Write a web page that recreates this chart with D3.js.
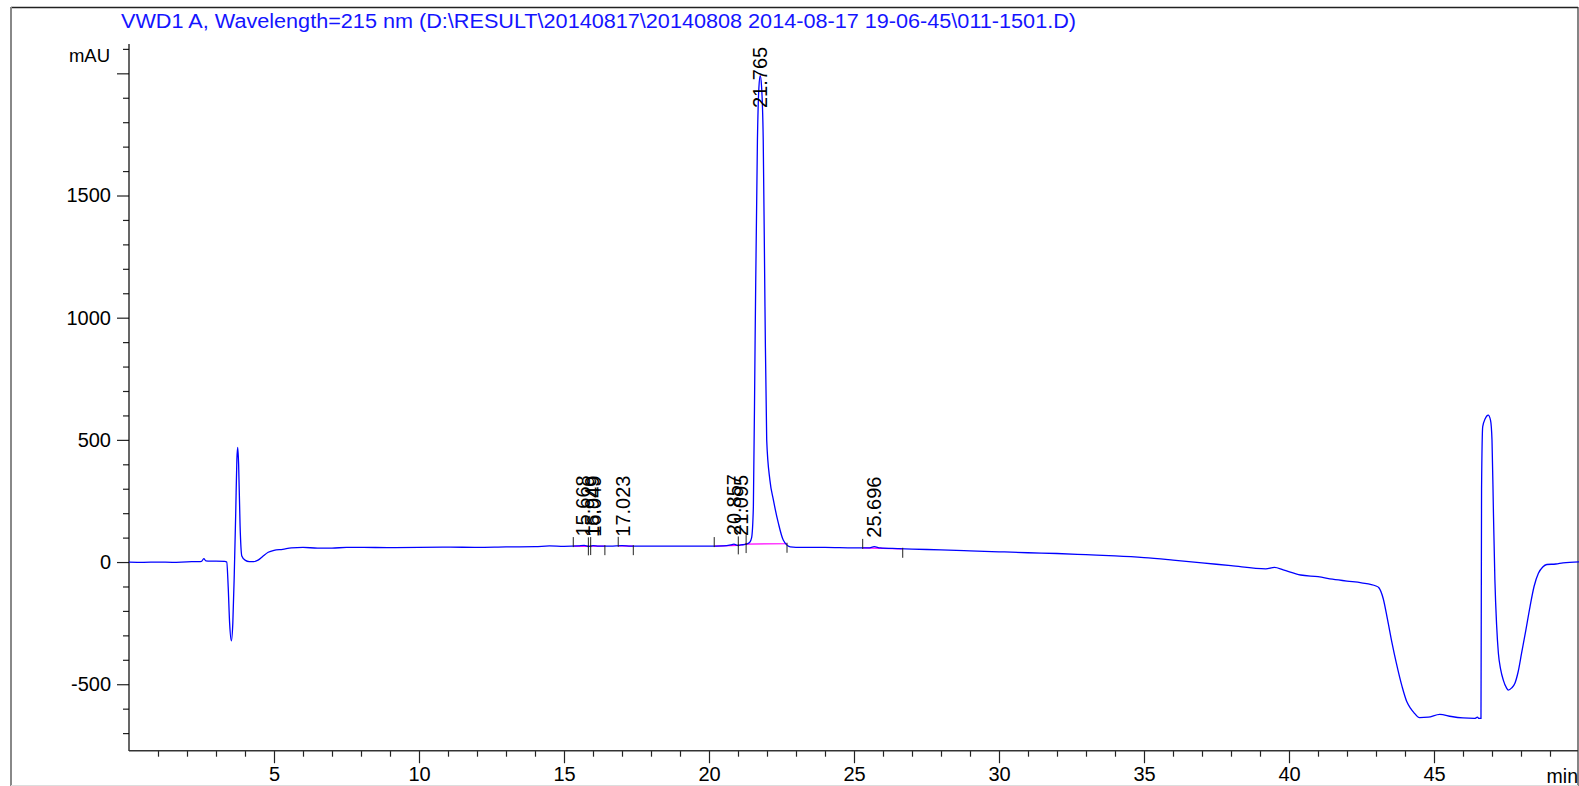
<!DOCTYPE html>
<html><head><meta charset="utf-8">
<script src="https://cdn.jsdelivr.net/npm/d3@7"></script>
<style>
html,body{margin:0;padding:0;background:#fff;overflow:hidden}
svg{display:block}
text{font-family:"Liberation Sans",Arial,sans-serif}
</style></head>
<body>
<svg id="c" width="1579" height="786"></svg>
<script>
const title = "VWD1 A, Wavelength=215 nm (D:\\RESULT\\20140817\\20140808 2014-08-17 19-06-45\\011-1501.D)";
const yUnit = "mAU";
const xUnit = "min";
const xTickLabels = [5, 10, 15, 20, 25, 30, 35, 40, 45];
const yTickLabels = [-500, 0, 500, 1000, 1500];

// signal: retention time (min) and absorbance (mAU)
const times = [0,0.5,1,1.5,2.0,2.4,2.5,2.58,2.65,2.8,3.0,3.3,3.37,3.42,3.47,3.53,3.58,3.63,3.68,3.72,3.75,3.78,3.83,3.89,4.0,4.15,4.3,4.45,4.6,4.8,5.0,5.3,5.6,6.0,6.5,7.0,7.5,8.0,9.0,10.0,11.0,12.0,13.0,14.0,14.5,15.0,15.5,15.7,15.85,16.0,16.2,16.6,17.0,17.3,18.0,19.0,20.0,20.5,20.75,20.86,21.0,21.1,21.25,21.4,21.47,21.53,21.59,21.67,21.72,21.765,21.81,21.87,21.93,21.99,22.1,22.22,22.39,22.56,22.8,23.0,24.0,25.0,25.5,25.7,25.9,26.5,27.0,28.0,29.0,30.0,31.0,32.0,33.0,34.0,35.0,36.0,37.0,38.0,39.2,39.5,39.8,40.4,41.0,41.5,42.0,42.5,43.0,43.1,43.25,43.4,43.55,43.7,43.9,44.06,44.2,44.3,44.5,44.8,45.2,45.6,46.0,46.4,46.5,46.55,46.62,46.64,46.68,46.76,46.87,46.95,47.0,47.05,47.1,47.16,47.22,47.3,47.39,47.5,47.56,47.68,47.79,47.9,48.02,48.15,48.31,48.45,48.6,48.75,48.89,49.2,49.45,50];
const values = [0,-1,0,-1,1,2,3,14,5,4,4,3,0,-100,-250,-322,-250,-50,200,420,469,400,150,25,8,2,2,8,22,40,48,52,58,60,57,57,60,60,59,60,61,60,62,63,66,64,66,68,64,67,65,65,67,65,65,65,65,66,70,73,68,70,72,80,100,226,908,1727,1940,1990,1950,1727,1045,499,335,254,160,90,62,60,60,58,58,63,58,55,53,50,46,42,38,35,30,25,18,8,-3,-15,-28,-22,-32,-53,-60,-70,-78,-85,-98,-105,-150,-237,-330,-413,-510,-571,-600,-615,-637,-635,-623,-632,-638,-640,-635,-640,-640,300,554,585,601,580,500,200,-74,-260,-373,-440,-483,-515,-524,-515,-496,-450,-373,-290,-183,-100,-46,-20,-10,-8,-3,1];

// integrated peaks
const peakTimes = [15.668, 15.949, 16.049, 17.023, 20.857, 21.095, 21.765, 25.696];
const peakLabels = ["15.668", "15.949", "16.049", "17.023", "20.857", "21.095", "21.765", "25.696"];
// baseline events (start, end) in min
const baseStart = [15.32, 15.84, 15.92, 16.87, 20.18, 21.01, 21.28, 25.30];
const baseEnd   = [15.84, 15.92, 16.41, 17.39, 21.01, 21.28, 22.69, 26.68];

const svg = d3.select("#c");
const x = d3.scaleLinear().domain([0, 50]).range([129, 1579]);
const y = d3.scaleLinear().domain([-772, 2120]).range([750.7, 44]);
const data = times.map((t, i) => ({t, v: values[i]}));
const interp = t => {
  for (let i = 1; i < times.length; i++) if (times[i] >= t) {
    const f = (t - times[i-1]) / (times[i] - times[i-1]);
    return values[i-1] + f * (values[i] - values[i-1]);
  }
  return values[values.length-1];
};
const FONT = '"Liberation Sans",Arial,sans-serif';

// frame
svg.append("line").attr("x1", 11).attr("x2", 1578).attr("y1", 7.5).attr("y2", 7.5).attr("stroke", "#222").attr("stroke-width", 1.5);
svg.append("line").attr("x1", 11).attr("x2", 11).attr("y1", 7).attr("y2", 786).attr("stroke", "#888").attr("stroke-width", 2);
svg.append("line").attr("x1", 1578).attr("x2", 1578).attr("y1", 7).attr("y2", 786).attr("stroke", "#333").attr("stroke-width", 1.2);
svg.append("line").attr("x1", 11).attr("x2", 1578).attr("y1", 785.5).attr("y2", 785.5).attr("stroke", "#ddd").attr("stroke-width", 1);

// title
svg.append("text").attr("x", 121).attr("y", 27.5).attr("fill", "#1414ff").attr("font-size", 19.5)
  .attr("textLength", 955).attr("lengthAdjust", "spacingAndGlyphs").text(title);

// y axis
const yMajor = d3.range(-500, 2001, 500);
const yMinor = d3.range(-700, 2101, 100).filter(v => v % 500 !== 0);
const gy = svg.append("g").attr("transform", "translate(129,0)")
  .call(d3.axisLeft(y).tickValues(yMajor).tickSize(12).tickPadding(6)
  .tickFormat(v => yTickLabels.includes(v) ? String(v) : ""));
const gy2 = svg.append("g").attr("transform", "translate(129,0)")
  .call(d3.axisLeft(y).tickValues(yMinor).tickSize(6).tickFormat(""));
[gy, gy2].forEach(g => { g.select(".domain").remove(); });
gy.selectAll("text").attr("font-size", 20).attr("fill", "#000").style("font-family", FONT);
svg.append("line").attr("x1", 129).attr("x2", 129).attr("y1", 44).attr("y2", 751).attr("stroke", "#000").attr("stroke-width", 1.2);
svg.append("text").attr("x", 110).attr("y", 62).attr("text-anchor", "end").attr("font-size", 18.5).attr("fill", "#000").text(yUnit);

// x axis
const xMajor = d3.range(5, 50, 5);
const xMinor = d3.range(1, 50, 1).filter(v => v % 5 !== 0);
const gx = svg.append("g").attr("transform", "translate(0,750.7)")
  .call(d3.axisBottom(x).tickValues(xMajor).tickSize(12.5).tickPadding(4).tickFormat(v => xTickLabels.includes(v) ? String(v) : ""));
const gx2 = svg.append("g").attr("transform", "translate(0,750.7)")
  .call(d3.axisBottom(x).tickValues(xMinor).tickSize(6).tickFormat(""));
[gx, gx2].forEach(g => g.select(".domain").remove());
gx.selectAll("text").attr("font-size", 20).attr("fill", "#000").style("font-family", FONT);
svg.append("line").attr("x1", 129).attr("x2", 1578).attr("y1", 750.7).attr("y2", 750.7).attr("stroke", "#333").attr("stroke-width", 1.5);
svg.append("text").attr("x", 1578).attr("y", 783).attr("text-anchor", "end").attr("font-size", 19.5).attr("fill", "#000").text(xUnit);
svg.selectAll(".tick line").attr("stroke", "#222").attr("stroke-width", 1.2);

// integration baselines
peakTimes.forEach((p, i) => {
  const a = baseStart[i], b = baseEnd[i];
  svg.append("line").attr("x1", x(a)).attr("x2", x(b)).attr("y1", y(interp(a))).attr("y2", y(interp(b)))
    .attr("stroke", "#ff00ff").attr("stroke-width", 1.2);
});

// signal
const line = d3.line().x(d => x(d.t)).y(d => y(d.v)).curve(d3.curveMonotoneX);
svg.append("path").datum(data).attr("d", line).attr("fill", "none").attr("stroke", "#0000ff").attr("stroke-width", 1.3);

// baseline event ticks
peakTimes.forEach((p, i) => {
  const a = baseStart[i], b = baseEnd[i];
  const ya = y(interp(a)), yb = y(interp(b));
  svg.append("line").attr("x1", x(a)).attr("x2", x(a)).attr("y1", ya - 9).attr("y2", ya + 1).attr("stroke", "#222").attr("stroke-width", 1);
  svg.append("line").attr("x1", x(b)).attr("x2", x(b)).attr("y1", yb - 1).attr("y2", yb + 9).attr("stroke", "#222").attr("stroke-width", 1);
});

// peak labels
peakTimes.forEach((p, i) => {
  let yb = y(interp(p)) - 9;
  const len = 60;
  if (yb - len < 44) yb = 44 + len + 4;
  svg.append("text").attr("transform", `translate(${x(p) + 7},${yb}) rotate(-90)`)
    .attr("font-size", 20).attr("fill", "#000").text(peakLabels[i]);
});
</script>
</body></html>
